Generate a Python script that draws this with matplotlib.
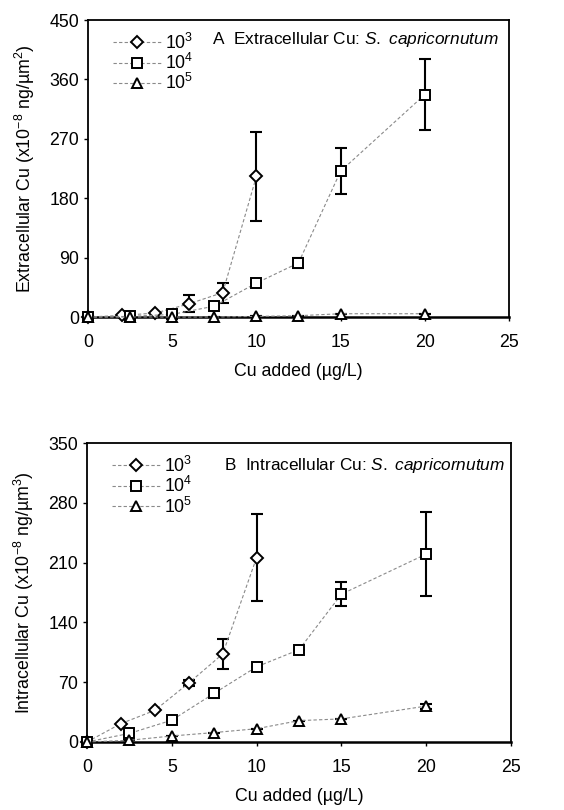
import matplotlib.pyplot as plt

plt.rcParams['font.family'] = ['Liberation Sans', 'DejaVu Sans']
plt.rcParams['mathtext.fontset'] = 'custom'
plt.rcParams['mathtext.rm'] = 'Liberation Sans'
plt.rcParams['mathtext.it'] = 'Liberation Sans:italic'

labels = ['$10^3$', '$10^4$', '$10^5$']
markers = ['D', 's', '^']

# panel A: extracellular Cu
xa = [[0, 2, 4, 6, 8, 10],
      [0, 2.5, 5, 7.5, 10, 12.5, 15, 20],
      [0, 2.5, 5, 7.5, 10, 12.5, 15, 20]]
ya = [[0, 2.5, 6, 20, 37, 213],
      [0, 1, 4, 16.5, 51.5, 82, 221, 337],
      [0, 0, 0, 0, 1, 2, 5, 5]]
ea = [[0, 0, 0, 13, 15, 67],
      [0, 0, 0, 2, 0, 8, 35, 54],
      [0, 0, 0, 0, 0, 0, 0, 0]]

# panel B: intracellular Cu
xb = xa
yb = [[0, 21.5, 37, 69, 103, 216],
      [0, 10, 25.5, 57, 88, 108, 173, 220],
      [0, 2, 7, 11, 15.5, 25, 27, 42]]
eb = [[0, 0, 0, 4, 18, 51],
      [0, 0, 0, 5, 0, 0, 14, 49],
      [0, 0, 0, 0, 0, 0, 0, 3]]

FS = 12.8

fig = plt.figure(figsize=(5.64, 8.10), dpi=100)
axA = fig.add_axes([0.156, 0.6086, 0.7465, 0.3667])
axB = fig.add_axes([0.1543, 0.0840, 0.7517, 0.369])


def panel(ax, xs, ys, es, ymax, step, ylabel, title, tx, ty):
    for x, y, e, m, lab in zip(xs, ys, es, markers, labels):
        ms = 6 if m == 'D' else 7.5
        ax.plot(x, y, ls=(0, (3, 2)), lw=0.8, color='#8a8a8a', marker=m,
                ms=ms, mfc='white', mec='black', mew=1.4, label=lab,
                zorder=3, clip_on=False)
        ax.errorbar(x, y, yerr=e, fmt='none', ecolor='black', elinewidth=1.5,
                    capsize=4, capthick=1.5, zorder=2)
    ax.set_xlim(0, 25)
    ax.set_ylim(0, ymax)
    ax.set_xticks(range(0, 26, 5))
    ax.set_yticks(range(0, ymax + 1, step))
    ax.tick_params(labelsize=FS, direction='out', length=3, width=1)
    ax.tick_params(axis='x', pad=9)
    for s in ax.spines.values():
        s.set_linewidth(1.3)
    ax.spines['bottom'].set_linewidth(1.8)
    ax.set_xlabel('Cu added (µg/L)', fontsize=FS, labelpad=9)
    ax.set_ylabel(ylabel, fontsize=FS, labelpad=9)
    ax.text(tx, ty, title, transform=ax.transAxes, ha='right',
            va='center', fontsize=12.4)
    ax.legend(loc='upper left', frameon=False, fontsize=FS,
              handlelength=2.7, handletextpad=0.2, labelspacing=0.02,
              borderaxespad=0.3, bbox_to_anchor=(0.03, 1.0))


panel(axA, xa, ya, ea, 450, 90,
      'Extracellular Cu (x10$^{-8}$ ng/µm$^{2}$)',
      'A  Extracellular Cu: $\\it{S.\\ capricornutum}$', 0.975, 0.933)
panel(axB, xb, yb, eb, 350, 70,
      'Intracellular Cu (x10$^{-8}$ ng/µm$^{3}$)',
      'B  Intracellular Cu: $\\it{S.\\ capricornutum}$', 0.986, 0.926)

fig.savefig('out.png', dpi=100)
